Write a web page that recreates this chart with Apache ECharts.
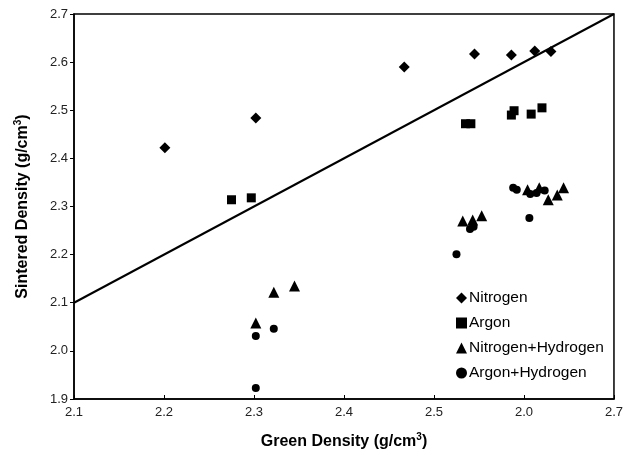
<!DOCTYPE html>
<html><head><meta charset="utf-8">
<script src="https://cdn.jsdelivr.net/npm/echarts@6/dist/echarts.min.js"></script>
<style>html,body{margin:0;padding:0;background:#fff}#c{width:626px;height:455px}</style>
</head><body><div id="c"></div>
<script>
const nitrogen = [[2.201,2.422],[2.302,2.484],[2.467,2.590],[2.545,2.617],[2.586,2.615],[2.612,2.623],[2.630,2.622]];
const argon = [[2.275,2.314],[2.297,2.318],[2.535,2.472],[2.541,2.472],[2.586,2.490],[2.589,2.499],[2.608,2.492],[2.620,2.505]];
const nitrogenHydrogen = [[2.302,2.058],[2.322,2.122],[2.345,2.135],[2.532,2.270],[2.543,2.272],[2.553,2.281],[2.604,2.335],[2.617,2.339],[2.627,2.314],[2.637,2.324],[2.644,2.339]];
const argonHydrogen = [[2.302,1.923],[2.302,2.031],[2.322,2.046],[2.525,2.201],[2.540,2.253],[2.544,2.258],[2.588,2.339],[2.592,2.335],[2.606,2.276],[2.607,2.326],[2.614,2.328],[2.623,2.333]];
const refLine = [[2.1,2.1],[2.7,2.7]];
const xTickLabels = ['2.1','2.2','2.3','2.4','2.5','2.0','2.7'];
const yTickLabels = ['1.9','2.0','2.1','2.2','2.3','2.4','2.5','2.6','2.7'];
const seriesNames = ['Nitrogen','Argon','Nitrogen+Hydrogen','Argon+Hydrogen'];

const chart = echarts.init(document.getElementById('c'));
const font = 'Liberation Sans, Arial, sans-serif';
const sup = {sup:{fontSize:10,fontWeight:'bold',verticalAlign:'top',padding:[0,0,9,0],fontFamily:font,color:'#000'}};
const mk = (name, data, symbol, size) => ({
  name, type:'scatter', data, symbol, symbolSize:size,
  itemStyle:{color:'#000',opacity:1}, z:3
});
chart.setOption({
  animation:false,
  grid:{left:74,right:11,top:14,bottom:56,show:true,borderColor:'#000',borderWidth:1.5},
  xAxis:{type:'value',min:2.1,max:2.7,interval:0.1,
    axisLine:{show:true,lineStyle:{color:'#000',width:1.5}},
    axisTick:{show:true,inside:true,length:4,lineStyle:{color:'#000'}},
    splitLine:{show:false},
    axisLabel:{color:'#222',fontSize:13,fontFamily:font,margin:7,
      formatter:(v)=>{const i=Math.round((v-2.1)*10);return xTickLabels[i]||'';}},
    name:'Green Density (g/cm{sup|3})',nameLocation:'middle',nameGap:33,
    nameTextStyle:{fontSize:16,fontWeight:'bold',color:'#000',fontFamily:font,rich:sup}
  },
  yAxis:{type:'value',min:1.9,max:2.7,interval:0.1,
    axisLine:{show:true,lineStyle:{color:'#000',width:1.5}},
    axisTick:{show:true,inside:false,length:4,lineStyle:{color:'#000'}},
    splitLine:{show:false},
    axisLabel:{color:'#222',fontSize:13,fontFamily:font,margin:6,
      formatter:(v)=>{const i=Math.round((v-1.9)*10);return yTickLabels[i]||'';}},
    name:'Sintered Density (g/cm{sup|3})',nameLocation:'middle',nameGap:42,
    nameTextStyle:{fontSize:16,fontWeight:'bold',color:'#000',fontFamily:font,rich:sup}
  },
  legend:{orient:'vertical',left:451,top:284,itemGap:7,itemWidth:11,itemHeight:11,
    data:seriesNames,
    textStyle:{fontSize:15.5,color:'#000',fontFamily:font,padding:[0,0,0,-3],lineHeight:18}},
  series:[
    {name:'line',type:'line',data:refLine,symbol:'none',lineStyle:{color:'#000',width:2},z:2,silent:true},
    mk(seriesNames[0],nitrogen,'diamond',11),
    mk(seriesNames[1],argon,'rect',9),
    mk(seriesNames[2],nitrogenHydrogen,'triangle',11),
    mk(seriesNames[3],argonHydrogen,'circle',8)
  ]
});
</script></body></html>
